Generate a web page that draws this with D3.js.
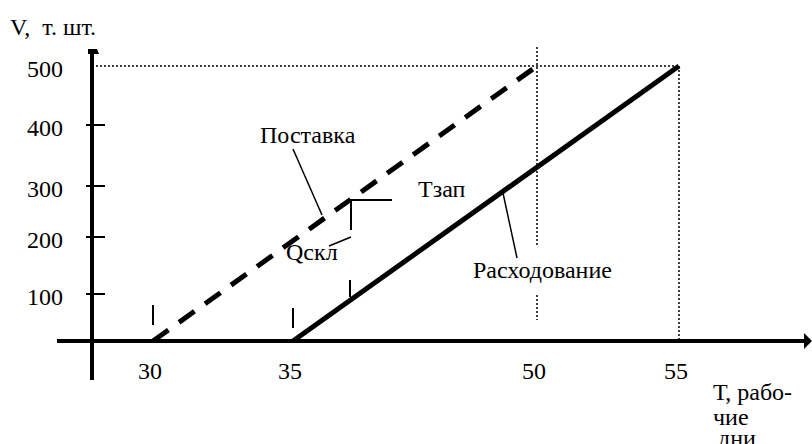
<!DOCTYPE html>
<html>
<head>
<meta charset="utf-8">
<script src="https://cdn.jsdelivr.net/npm/d3@7"></script>
<style>
  body { margin: 0; background: #fff; }
  svg text { white-space: pre; }
</style>
</head>
<body>
<div id="chart"></div>
<script>
// data
const dayTicks = [30, 35, 50, 55];
const volumeTicks = [100, 200, 300, 400, 500];
const supply = [[30, 0], [50, 500]];        // Поставка
const consumption = [[35, 0], [55, 500]];   // Расходование

const W = 812, H = 444;

let svg = d3.select("#chart").append("svg")
    .attr("width", W)
    .attr("height", H)
    .attr("font-family", "'Liberation Serif', 'Times New Roman', 'DejaVu Serif', serif")
    .attr("font-size", 24);

// hand drawn axes in the original are not evenly spaced, so piecewise scales
let x = d3.scaleLinear().domain([30, 35, 50, 55]).range([153, 293, 537, 679]);
let y = d3.scaleLinear().domain([0, 100, 200, 300, 400, 500]).range([341, 294, 237, 186, 125, 66]);

const x0 = 92, y0 = y(0);

// dotted guides
let dotted = svg.append("g")
    .attr("stroke", "#000")
    .attr("stroke-width", 1.5)
    .attr("stroke-dasharray", "2,2")
    .attr("fill", "none");
dotted.append("line")
    .attr("x1", x0 + 4).attr("x2", x(55))
    .attr("y1", y(500)).attr("y2", y(500));
dotted.append("line")
    .attr("x1", x(55)).attr("x2", x(55))
    .attr("y1", y(500)).attr("y2", y0);
dotted.append("line")
    .attr("x1", x(50)).attr("x2", x(50))
    .attr("y1", y(500) - 19).attr("y2", 245);
dotted.append("line")
    .attr("x1", x(50)).attr("x2", x(50))
    .attr("y1", 295).attr("y2", 320);

// axes
svg.append("line")
    .attr("x1", 57).attr("x2", 806)
    .attr("y1", y0).attr("y2", y0)
    .attr("stroke", "#000").attr("stroke-width", 4);
svg.append("path")
    .attr("d", "M804," + (y0 - 8) + "L812," + y0 + "L804," + (y0 + 8) + "Z")
    .attr("fill", "#000");

svg.append("line")
    .attr("x1", x0).attr("x2", x0)
    .attr("y1", 50).attr("y2", 380)
    .attr("stroke", "#000").attr("stroke-width", 4);
svg.append("path")
    .attr("d", "M" + (x0 - 4) + ",49L" + (x0 + 5) + ",49L" + (x0 + 7) + ",54L" + (x0 - 4) + ",54Z")
    .attr("fill", "#000");

// y ticks and labels
svg.selectAll(".ytick")
    .data(volumeTicks.filter(d => d < 500))
    .enter().append("line")
    .attr("class", "ytick")
    .attr("x1", x0 - 6).attr("x2", x0 + 13)
    .attr("y1", d => y(d)).attr("y2", d => y(d))
    .attr("stroke", "#000").attr("stroke-width", 2);

svg.selectAll(".ylabel")
    .data(volumeTicks)
    .enter().append("text")
    .attr("class", "ylabel")
    .attr("x", 63)
    .attr("y", d => y(d) + 11)
    .attr("text-anchor", "end")
    .text(d => d);

svg.selectAll(".xlabel")
    .data(dayTicks)
    .enter().append("text")
    .attr("class", "xlabel")
    .attr("x", d => x(d) - 3)
    .attr("y", 379)
    .attr("text-anchor", "middle")
    .text(d => d);

// axis titles
svg.append("text").attr("x", 10).attr("y", 35).text("V,  т. шт.");
svg.append("text").attr("x", 713).attr("y", 400).text("Т, рабо-");
svg.append("text").attr("x", 713).attr("y", 425).text("чие");
svg.append("text").attr("x", 718).attr("y", 446).text("дни");

// lines
let line = d3.line()
    .x(d => x(d[0]))
    .y(d => y(d[1]));

svg.append("path")
    .datum(supply)
    .attr("d", line)
    .attr("fill", "none")
    .attr("stroke", "#000")
    .attr("stroke-width", 5)
    .attr("stroke-dasharray", "19,13");

svg.append("path")
    .datum(consumption)
    .attr("d", line)
    .attr("fill", "none")
    .attr("stroke", "#000")
    .attr("stroke-width", 5);

// small markers
let marks = svg.append("g").attr("stroke", "#000").attr("stroke-width", 2);
marks.append("line").attr("x1", x(30)).attr("x2", x(30)).attr("y1", 305).attr("y2", 325);
marks.append("line").attr("x1", x(35)).attr("x2", x(35)).attr("y1", 308).attr("y2", 328);
marks.append("line").attr("x1", 350).attr("x2", 350).attr("y1", 280).attr("y2", 297);

// annotations
let ann = svg.append("g").attr("stroke", "#000").attr("stroke-width", 1.5).attr("fill", "none");
ann.append("line").attr("x1", 293).attr("y1", 149).attr("x2", 322).attr("y2", 215);   // Поставка
ann.append("line").attr("x1", 517).attr("y1", 258).attr("x2", 503).attr("y2", 193);   // Расходование
ann.append("path").attr("d", "M392,200L351,200L351,230").attr("stroke-width", 2);     // Тзап
ann.append("line").attr("x1", 329).attr("y1", 246).attr("x2", 351).attr("y2", 237);   // Qскл

svg.append("text").attr("x", 260).attr("y", 143).text("Поставка");
svg.append("text").attr("x", 418).attr("y", 197).text("Тзап");
svg.append("text").attr("x", 286).attr("y", 260).text("Qскл");
svg.append("text").attr("x", 473).attr("y", 278).text("Расходование");
</script>
</body>
</html>
